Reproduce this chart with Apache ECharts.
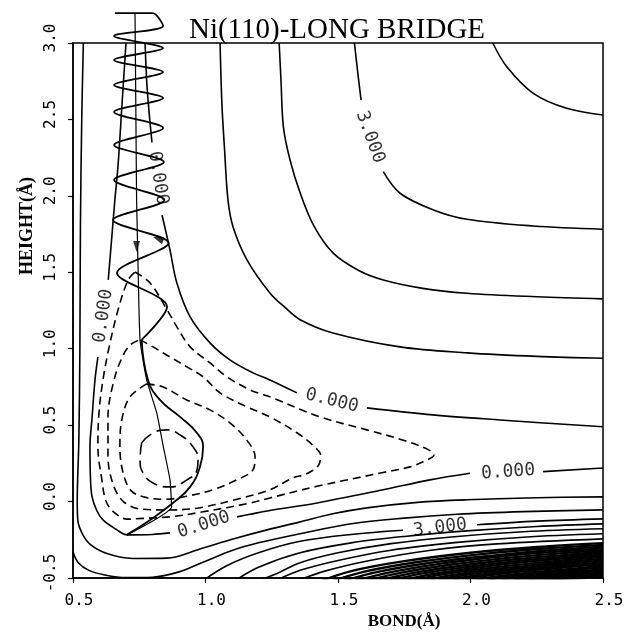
<!DOCTYPE html>
<html><head><meta charset="utf-8">
<script src="https://cdn.jsdelivr.net/npm/echarts@6/dist/echarts.min.js"></script>
<style>html,body{margin:0;padding:0;background:#fff}#c{width:627px;height:636px}</style>
</head><body><div id="c"></div><script>
// ---- solid contours (upper family) ----
const contourTR = [[2.084,3.0],[2.137,2.845],[2.237,2.671],[2.363,2.573],[2.5,2.529]];
const contourK3a = [[1.562,3.0],[1.575,2.8],[1.587,2.627]];
const contourK3b = [[1.671,2.158],[1.734,2.017],[1.860,1.908],[1.986,1.847],[2.237,1.803],[2.5,1.782]];
const contourK2 = [[1.278,3.0],[1.285,2.75],[1.294,2.45],[1.319,2.235],[1.357,2.02],[1.41,1.80],[1.482,1.625],[1.58,1.51],[1.671,1.450],[1.82,1.395],[1.986,1.363],[2.25,1.34],[2.5,1.326]];
const contourD = [[1.055,3.0],[1.062,2.6],[1.072,2.3],[1.085,1.97],[1.104,1.797],[1.157,1.58],[1.243,1.365],[1.30,1.27],[1.357,1.19],[1.481,1.103],[1.734,1.012],[1.987,0.973],[2.25,0.95],[2.5,0.938]];
const contourCa = [[0.772,3.0],[0.78,2.7],[0.798,2.35]];
const contourCb = [[0.836,1.875],[0.866,1.646],[0.892,1.430],[0.942,1.208],[1.017,1.038],[1.092,0.927],[1.179,0.842],[1.243,0.796],[1.345,0.711]];
const contourCc = [[1.609,0.613],[1.858,0.567],[2.111,0.534],[2.5,0.489]];
// ---- solid contours (well boundary and lower family) ----
const contourBa = [[0.70,3.0],[0.685,2.6],[0.67,2.2],[0.658,1.973],[0.645,1.70],[0.633,1.45]];
const contourBb = [[0.594,0.946],[0.583,0.796],[0.572,0.55],[0.564,0.358],[0.566,0.15],[0.572,0.031],[0.590,-0.06],[0.613,-0.12],[0.666,-0.185],[0.704,-0.218],[0.80,-0.215],[0.866,-0.205]];
const contourBc = [[1.119,-0.100],[1.168,-0.083],[1.243,-0.058],[1.421,-0.009],[1.670,0.077],[1.847,0.142],[1.998,0.185]];
const contourBd = [[2.274,0.196],[2.5,0.220]];
const contourA = [[0.539,3.0],[0.533,2.5],[0.528,1.8],[0.526,1.0],[0.522,0.4],[0.516,0.0],[0.518,-0.12],[0.535,-0.21],[0.565,-0.28],[0.628,-0.34],[0.726,-0.372],[0.855,-0.37],[0.979,-0.31],[1.104,-0.245],[1.232,-0.185],[1.357,-0.133],[1.48,-0.08],[1.609,-0.041],[1.80,-0.005],[1.987,0.012],[2.25,0.025],[2.5,0.031]];
const contourE = [[0.50,-0.33],[0.52,-0.40],[0.56,-0.45],[0.62,-0.48],[0.70,-0.497],[0.80,-0.495],[0.90,-0.46],[1.0,-0.39],[1.1,-0.32],[1.2,-0.27],[1.357,-0.21],[1.55,-0.145],[1.75,-0.108],[1.95,-0.083],[2.2,-0.066],[2.5,-0.054]];
const contourL3a = [[0.98,-0.53],[1.08,-0.42],[1.2,-0.335],[1.357,-0.26],[1.55,-0.215],[1.745,-0.188]];
const contourL3b = [[2.025,-0.152],[2.25,-0.128],[2.5,-0.113]];
const contourL4 = [[1.10,-0.53],[1.2,-0.43],[1.357,-0.335],[1.55,-0.27],[1.75,-0.228],[2.0,-0.19],[2.25,-0.163],[2.5,-0.146]];
const contourL5 = [[1.18,-0.53],[1.27,-0.47],[1.357,-0.40],[1.5,-0.335],[1.7,-0.275],[1.95,-0.228],[2.2,-0.197],[2.5,-0.178]];
const contourL6 = [[1.25,-0.53],[1.357,-0.45],[1.5,-0.385],[1.7,-0.318],[1.95,-0.267],[2.2,-0.233],[2.5,-0.211]];
const contourL7 = [[1.33,-0.53],[1.45,-0.455],[1.62,-0.385],[1.85,-0.318],[2.1,-0.277],[2.5,-0.244]];
const contourL8 = [[1.42,-0.53],[1.55,-0.455],[1.75,-0.39],[2.0,-0.335],[2.25,-0.297],[2.5,-0.272]];
const contourL8b = [[1.46,-0.53],[1.60,-0.458],[1.80,-0.395],[2.05,-0.342],[2.28,-0.307],[2.5,-0.283]];
const contourL9 = [[1.50,-0.53],[1.65,-0.46],[1.85,-0.40],[2.1,-0.35],[2.3,-0.318],[2.5,-0.295]];
const contourL9b = [[1.54,-0.53],[1.70,-0.462],[1.89,-0.406],[2.12,-0.358],[2.33,-0.327],[2.5,-0.306]];
const contourL10 = [[1.58,-0.53],[1.74,-0.465],[1.93,-0.412],[2.15,-0.367],[2.35,-0.337],[2.5,-0.318]];
const contourL10b = [[1.62,-0.53],[1.78,-0.468],[1.97,-0.418],[2.18,-0.376],[2.37,-0.347],[2.5,-0.329]];
const contourL11 = [[1.66,-0.53],[1.82,-0.47],[2.0,-0.425],[2.2,-0.385],[2.38,-0.357],[2.5,-0.34]];
const contourL11b = [[1.70,-0.53],[1.86,-0.474],[2.03,-0.431],[2.22,-0.393],[2.5,-0.351]];
const contourL12 = [[1.74,-0.53],[1.89,-0.478],[2.06,-0.437],[2.25,-0.402],[2.5,-0.362]];
const contourL12b = [[1.78,-0.53],[1.93,-0.481],[2.09,-0.442],[2.28,-0.41],[2.5,-0.373]];
const contourL13 = [[1.82,-0.53],[1.96,-0.485],[2.12,-0.448],[2.3,-0.418],[2.5,-0.385]];
const contourL13b = [[1.86,-0.53],[2.0,-0.488],[2.15,-0.454],[2.33,-0.425],[2.5,-0.396]];
const contourL14 = [[1.90,-0.53],[2.03,-0.492],[2.18,-0.46],[2.35,-0.432],[2.5,-0.408]];
const contourL14b = [[1.94,-0.53],[2.07,-0.496],[2.22,-0.465],[2.38,-0.44],[2.5,-0.419]];
const contourL15 = [[1.98,-0.53],[2.1,-0.5],[2.25,-0.47],[2.4,-0.447],[2.5,-0.43]];
const contourL15b = [[2.02,-0.53],[2.14,-0.502],[2.29,-0.475],[2.45,-0.45],[2.5,-0.441]];
const contourL16 = [[2.06,-0.53],[2.18,-0.505],[2.32,-0.48],[2.5,-0.452]];
const contourL16b = [[2.10,-0.53],[2.23,-0.506],[2.36,-0.485],[2.5,-0.463]];
const contourL17 = [[2.14,-0.53],[2.27,-0.508],[2.4,-0.49],[2.5,-0.474]];
const contourL17b = [[2.19,-0.53],[2.32,-0.509],[2.5,-0.483]];
const contourL18 = [[2.24,-0.53],[2.36,-0.51],[2.5,-0.492]];
// ---- dashed (negative) contours ----
const contourN1 = [[0.734,1.502],[0.791,1.430],[0.855,1.254],[0.892,1.143],[0.942,1.012],[1.017,0.907],[1.081,0.816],[1.168,0.731],[1.243,0.685],[1.432,0.554],[1.609,0.469],[1.75,0.40],[1.84,0.34],[1.862,0.305],[1.83,0.268],[1.772,0.227],[1.67,0.19],[1.421,0.10],[1.243,0.024],[1.168,-0.01],[0.991,-0.067],[0.866,-0.10],[0.764,-0.11],[0.704,-0.115],[0.655,-0.07],[0.625,0.0],[0.609,0.142],[0.594,0.358],[0.598,0.580],[0.613,0.796],[0.635,1.0],[0.670,1.254],[0.708,1.450],[0.734,1.502]];
const contourN2 = [[0.753,1.058],[0.802,1.012],[0.866,0.946],[0.930,0.881],[0.991,0.816],[1.055,0.711],[1.157,0.619],[1.243,0.554],[1.345,0.45],[1.41,0.36],[1.435,0.30],[1.425,0.235],[1.38,0.18],[1.33,0.155],[1.243,0.077],[1.130,0.02],[0.979,-0.04],[0.866,-0.055],[0.76,-0.05],[0.69,0.0],[0.650,0.12],[0.632,0.30],[0.632,0.55],[0.655,0.796],[0.69,0.96],[0.72,1.03],[0.753,1.058]];
const contourN3 = [[0.778,0.770],[0.840,0.750],[0.929,0.665],[1.017,0.600],[1.092,0.515],[1.155,0.404],[1.187,0.292],[1.179,0.207],[1.118,0.142],[1.028,0.077],[0.929,0.035],[0.85,0.015],[0.78,0.025],[0.72,0.07],[0.689,0.188],[0.677,0.358],[0.684,0.534],[0.715,0.685],[0.778,0.770]];
const contourN4 = [[0.759,0.384],[0.803,0.449],[0.854,0.469],[0.904,0.436],[0.953,0.358],[0.972,0.273],[0.968,0.207],[0.930,0.142],[0.866,0.096],[0.802,0.122],[0.764,0.188],[0.753,0.273],[0.759,0.384]];
// ---- trajectory ----
const trajIn = [[0.734,3.196],[0.737,2.6],[0.740,1.973],[0.746,1.5],[0.753,1.058],[0.778,0.796],[0.816,0.580],[0.841,0.358],[0.866,0.142],[0.872,-0.035],[0.703,-0.218]];
const trajLoop = [[0.703,-0.218],[0.791,-0.120],[0.877,-0.009],[0.942,0.096],[0.979,0.227],[0.991,0.358],[0.968,0.449],[0.904,0.554],[0.828,0.665],[0.783,0.796],[0.759,1.058]];
const trajOut = [[0.759,1.058],[0.855,1.275],[0.666,1.496],[0.861,1.692],[0.651,1.842],[0.845,1.973],[0.655,2.104],[0.843,2.222],[0.655,2.333],[0.840,2.444],[0.655,2.549],[0.840,2.640],[0.655,2.725],[0.840,2.810],[0.655,2.889],[0.840,2.967],[0.655,3.046],[0.840,3.111],[0.80,3.196],[0.658,3.196]];
const arrowX = [0.740, 0.821];
const arrowY = [1.668, 1.719];
// ---- contour labels ----
const labelX = [0.615, 0.821, 1.477, 0.994, 2.142, 1.621, 1.885];
const labelY = [1.214, 2.117, 0.659, -0.152, 0.194, 2.385, -0.172];
const labelText = ['0.000','0.000','0.000','0.000','0.000','3.000','3.000'];
const labelAngle = [82, -81, -14, 18, 4, -70, 7];
const arrowAngle = [180, 67.6];

const solidList = [contourTR,contourK3a,contourK3b,contourK2,contourD,contourCa,contourCb,contourCc,contourBa,contourBb,contourBc,contourBd,contourA,contourE,contourL3a,contourL3b,contourL4,contourL5,contourL6,contourL7];
const denseList = [contourL8,contourL8b,contourL9,contourL9b,contourL10,contourL10b,contourL11,contourL11b,contourL12,contourL12b,contourL13,contourL13b,contourL14,contourL14b,contourL15,contourL15b,contourL16,contourL16b,contourL17,contourL17b,contourL18];
const dashedList = [contourN1,contourN2,contourN3];

function ln(data, width, type, smooth, extra) {
  return Object.assign({type:'line', data:data, symbol:'none', showSymbol:false, smooth:smooth, silent:true,
    lineStyle:{color:'#000', width:width, type:type}, z:2}, extra||{});
}
const series = [];
solidList.forEach(d => series.push(ln(d, 1.6, 'solid', 0.35)));
denseList.forEach(d => series.push(ln(d, 2.4, 'solid', 0.35)));
dashedList.forEach(d => series.push(ln(d, 1.6, [8,5], 0.35)));
series.push(ln(contourN4, 1.6, [13,6], 0.5));
series.push(ln(trajIn, 1.2, 'solid', 0.15, {clip:false, z:3}));
series.push(ln(trajLoop, 1.8, 'solid', 0.45, {clip:false, z:3}));
series.push(ln(trajOut, 1.8, 'solid', 0.3, {clip:false, z:3}));
series.push({type:'scatter', silent:true, z:4, symbol:'triangle', symbolSize:[7,11],
  itemStyle:{color:'#000'},
  data: arrowX.map((x,i)=>({value:[x,arrowY[i]], symbolRotate: arrowAngle[i]}))});
series.push({type:'scatter', silent:true, z:4, symbolSize:1, itemStyle:{color:'rgba(0,0,0,0)'},
  label:{show:true, position:'inside', color:'#000', fontFamily:'DejaVu Sans Mono', fontSize:18, formatter: p => p.data.name},
  data: labelX.map((x,i)=>({name:labelText[i], value:[x,labelY[i]], label:{rotate:labelAngle[i]}}))});

const chart = echarts.init(document.getElementById('c'));
chart.setOption({
  animation:false,
  backgroundColor:'#fff',
  grid:{left:73, right:24, top:43, bottom:58, show:true, borderColor:'#000', borderWidth:1.5, backgroundColor:'transparent', containLabel:false, outerBoundsMode:'none'},
  xAxis:{type:'value', min:0.5, max:2.5, interval:0.5,
    axisLine:{show:true, onZero:false, lineStyle:{color:'#000', width:1.5}},
    axisTick:{show:true, length:5, inside:false, lineStyle:{color:'#000', width:1.2}},
    splitLine:{show:false},
    axisLabel:{show:true, margin:15, color:'#000', fontFamily:'DejaVu Sans Mono', fontSize:16, padding:[0,0,0,12], showMinLabel:true, showMaxLabel:true, formatter:v=>v.toFixed(1)}},
  yAxis:{type:'value', min:-0.5, max:3.0, interval:0.5,
    axisLine:{show:true, onZero:false, lineStyle:{color:'#000', width:1.5}},
    axisTick:{show:true, length:5, inside:false, lineStyle:{color:'#000', width:1.2}},
    splitLine:{show:false},
    axisLabel:{show:true, rotate:90, margin:14, color:'#000', fontFamily:'DejaVu Sans Mono', fontSize:16, padding:[0,0,0,10], showMinLabel:true, showMaxLabel:true, formatter:v=>v.toFixed(1)}},
  graphic:[
    {type:'text', x:337, y:30, style:{text:'Ni(110)-LONG BRIDGE', fill:'#000', font:'29px "Liberation Serif"', align:'center', verticalAlign:'middle', textAlign:'center', textVerticalAlign:'middle'}},
    {type:'text', x:404, y:622, style:{text:'BOND(Å)', fill:'#000', font:'bold 17px "Liberation Serif"', align:'center', verticalAlign:'middle', textAlign:'center', textVerticalAlign:'middle'}},
    {type:'text', x:27, y:226, rotation:Math.PI/2, style:{text:'HEIGHT(Å)', fill:'#000', font:'bold 18px "Liberation Serif"', align:'center', verticalAlign:'middle', textAlign:'center', textVerticalAlign:'middle'}}
  ],
  series: series
});
</script></body></html>
